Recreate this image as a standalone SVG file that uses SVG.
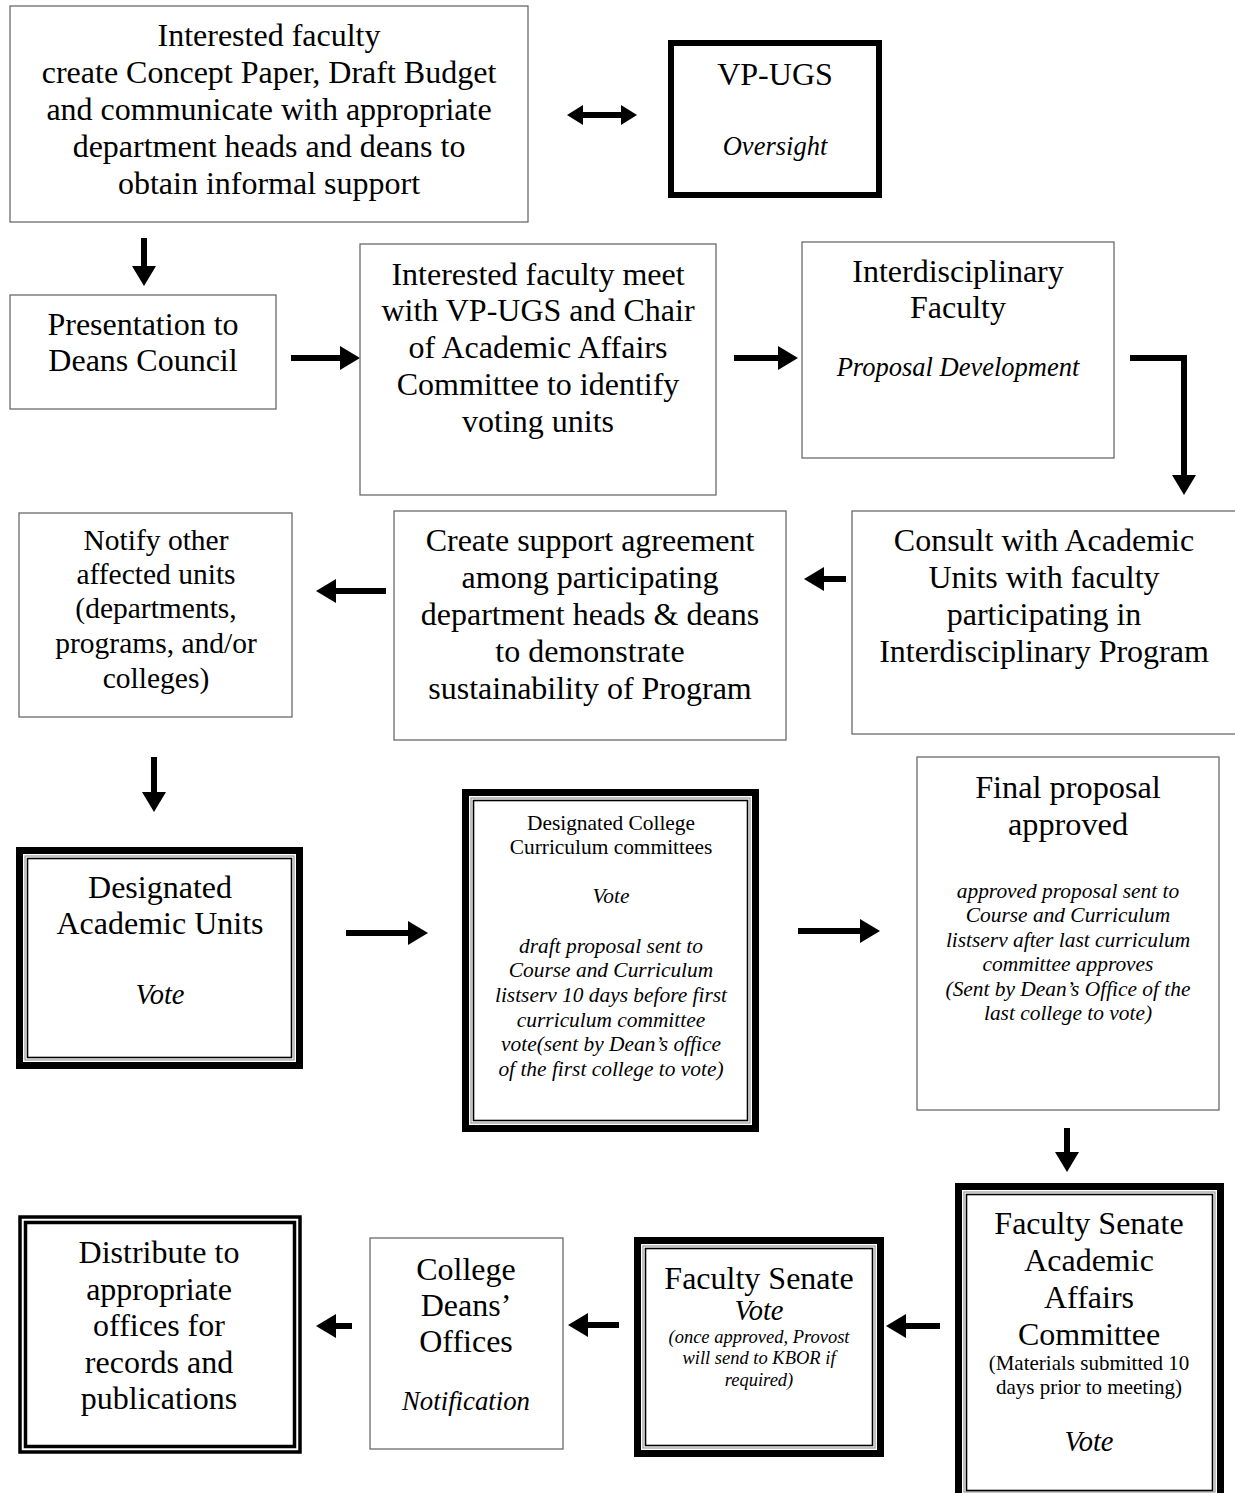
<svg xmlns="http://www.w3.org/2000/svg" width="1235" height="1493" viewBox="0 0 1235 1493">
<style>
text{font-family:"Liberation Serif","Times New Roman",serif;fill:#000;text-anchor:middle}
.t29{font-size:32px}
.t26{font-size:29.5px}
.t19{font-size:21.4px}
.i{font-style:italic}
.thin{fill:#fff;stroke:#6a6a6a;stroke-width:1.3}
.thick{fill:#fff;stroke:#000;stroke-width:6}
.outer{fill:#fff;stroke:#000;stroke-width:7}
.gray{fill:none;stroke:#999;stroke-width:1.2}
.inner{fill:none;stroke:#000;stroke-width:1.6}
.dbl{fill:#fff;stroke:#000;stroke-width:3.5}
.conn{stroke:#000;stroke-width:6;fill:none}
</style>
<defs>
<marker id="ah" markerUnits="userSpaceOnUse" markerWidth="20" markerHeight="24" refX="6" refY="12" orient="auto" overflow="visible">
<path d="M0,0 L20,12 L0,24 Z" fill="#000"/>
</marker>
<marker id="ahs" markerUnits="userSpaceOnUse" markerWidth="16" markerHeight="20" refX="5" refY="10" orient="auto-start-reverse" overflow="visible">
<path d="M0,0 L16,10 L0,20 Z" fill="#000"/>
</marker>
</defs>
<rect width="1235" height="1493" fill="#fff"/>

<g id="connectors">
<line class="conn" x1="578" y1="115" x2="626" y2="115" marker-start="url(#ahs)" marker-end="url(#ahs)"/>
<line class="conn" x1="144" y1="238" x2="144" y2="272" marker-end="url(#ah)"/>
<line class="conn" x1="291" y1="358" x2="346" y2="358" marker-end="url(#ah)"/>
<line class="conn" x1="734" y1="358" x2="784" y2="358" marker-end="url(#ah)"/>
<path class="conn" d="M1130,358 H1184 V481" marker-end="url(#ah)"/>
<line class="conn" x1="846" y1="579" x2="818" y2="579" marker-end="url(#ah)"/>
<line class="conn" x1="386" y1="591" x2="330" y2="591" marker-end="url(#ah)"/>
<line class="conn" x1="154" y1="757" x2="154" y2="798" marker-end="url(#ah)"/>
<line class="conn" x1="346" y1="933" x2="414" y2="933" marker-end="url(#ah)"/>
<line class="conn" x1="798" y1="931" x2="866" y2="931" marker-end="url(#ah)"/>
<line class="conn" x1="1067" y1="1128" x2="1067" y2="1158" marker-end="url(#ah)"/>
<line class="conn" x1="940" y1="1326" x2="900" y2="1326" marker-end="url(#ah)"/>
<line class="conn" x1="619" y1="1325" x2="582" y2="1325" marker-end="url(#ah)"/>
<line class="conn" x1="352" y1="1326" x2="330" y2="1326" marker-end="url(#ah)"/>
</g>

<g id="n1">
<rect class="thin" x="10" y="6" width="518" height="216"/>
<text class="t29" x="269" y="46">Interested faculty</text>
<text class="t29" x="269" y="83">create Concept Paper, Draft Budget</text>
<text class="t29" x="269" y="120">and communicate with appropriate</text>
<text class="t29" x="269" y="157">department heads and deans to</text>
<text class="t29" x="269" y="194">obtain informal support</text>
</g>

<g id="n2">
<rect class="thick" x="671" y="43" width="208" height="152"/>
<text class="t29" x="775" y="85">VP-UGS</text>
<text class="i" x="775" y="155" font-size="26.5">Oversight</text>
</g>

<g id="n3">
<rect class="thin" x="10" y="295" width="266" height="114"/>
<text class="t29" x="143" y="335">Presentation to</text>
<text class="t29" x="143" y="371">Deans Council</text>
</g>

<g id="n4">
<rect class="thin" x="360" y="244" width="356" height="251"/>
<text class="t29" x="538" y="285">Interested faculty meet</text>
<text class="t29" x="538" y="321">with VP-UGS and Chair</text>
<text class="t29" x="538" y="358">of Academic Affairs</text>
<text class="t29" x="538" y="395">Committee to identify</text>
<text class="t29" x="538" y="432">voting units</text>
</g>

<g id="n5">
<rect class="thin" x="802" y="242" width="312" height="216"/>
<text class="t29" x="958" y="282">Interdisciplinary</text>
<text class="t29" x="958" y="318">Faculty</text>
<text class="i" x="958" y="376" font-size="26.5">Proposal Development</text>
</g>

<g id="n6">
<rect class="thin" x="852" y="511" width="390" height="223"/>
<text class="t29" x="1044" y="551">Consult with Academic</text>
<text class="t29" x="1044" y="588">Units with faculty</text>
<text class="t29" x="1044" y="625">participating in</text>
<text class="t29" x="1044" y="662">Interdisciplinary Program</text>
</g>

<g id="n7">
<rect class="thin" x="394" y="511" width="392" height="229"/>
<text class="t29" x="590" y="551">Create support agreement</text>
<text class="t29" x="590" y="588">among participating</text>
<text class="t29" x="590" y="625">department heads &amp; deans</text>
<text class="t29" x="590" y="662">to demonstrate</text>
<text class="t29" x="590" y="699">sustainability of Program</text>
</g>

<g id="n8">
<rect class="thin" x="19" y="513" width="273" height="204"/>
<text class="t26" x="156" y="550">Notify other</text>
<text class="t26" x="156" y="584">affected units</text>
<text class="t26" x="156" y="618">(departments,</text>
<text class="t26" x="156" y="653">programs, and/or</text>
<text class="t26" x="156" y="688">colleges)</text>
</g>

<g id="n9">
<rect class="outer" x="19.5" y="850.5" width="280" height="215"/>
<rect class="gray" x="25" y="856" width="269" height="204"/>
<rect class="inner" x="27.5" y="858.5" width="264" height="199"/>
<text class="t29" x="160" y="898">Designated</text>
<text class="t29" x="160" y="934">Academic Units</text>
<text class="i" x="160" y="1004" font-size="28.5">Vote</text>
</g>

<g id="n10">
<rect class="outer" x="465.5" y="792.5" width="290" height="336"/>
<rect class="gray" x="471" y="798" width="279" height="325"/>
<rect class="inner" x="473.5" y="800.5" width="274" height="320"/>
<text class="t19" x="611" y="830">Designated College</text>
<text class="t19" x="611" y="854">Curriculum committees</text>
<text class="t19 i" x="611" y="903">Vote</text>
<text class="t19 i" x="611" y="953">draft proposal sent to</text>
<text class="t19 i" x="611" y="977">Course and Curriculum</text>
<text class="t19 i" x="611" y="1002">listserv 10 days before first</text>
<text class="t19 i" x="611" y="1027">curriculum committee</text>
<text class="t19 i" x="611" y="1051">vote(sent by Dean’s office</text>
<text class="t19 i" x="611" y="1076">of the first college to vote)</text>
</g>

<g id="n11">
<rect class="thin" x="917" y="757" width="302" height="353"/>
<text x="1068" y="798" font-size="32.3">Final proposal</text>
<text x="1068" y="835" font-size="32.3">approved</text>
<text class="t19 i" x="1068" y="898">approved proposal sent to</text>
<text class="t19 i" x="1068" y="922">Course and Curriculum</text>
<text class="t19 i" x="1068" y="947">listserv after last curriculum</text>
<text class="t19 i" x="1068" y="971">committee approves</text>
<text class="t19 i" x="1068" y="996">(Sent by Dean’s Office of the</text>
<text class="t19 i" x="1068" y="1020">last college to vote)</text>
</g>

<g id="n12">
<rect class="outer" x="958.5" y="1186.5" width="262" height="310"/>
<rect class="gray" x="964" y="1192" width="251" height="300"/>
<rect class="inner" x="966.5" y="1194.5" width="246" height="296"/>
<text class="t29" x="1089" y="1234">Faculty Senate</text>
<text class="t29" x="1089" y="1271">Academic</text>
<text class="t29" x="1089" y="1308">Affairs</text>
<text class="t29" x="1089" y="1345">Committee</text>
<text x="1089" y="1370" font-size="21">(Materials submitted 10</text>
<text x="1089" y="1394" font-size="21">days prior to meeting)</text>
<text class="i" x="1089" y="1451" font-size="28.5">Vote</text>
</g>

<g id="n13">
<rect class="outer" x="637.5" y="1240.5" width="243" height="213"/>
<rect class="gray" x="643" y="1246" width="232" height="202"/>
<rect class="inner" x="645.5" y="1248.5" width="227" height="197"/>
<text class="t29" x="759" y="1289">Faculty Senate</text>
<text class="i" x="759" y="1320" font-size="28.5">Vote</text>
<text class="i" x="759" y="1343" font-size="18.5">(once approved, Provost</text>
<text class="i" x="759" y="1364" font-size="18.5">will send to KBOR if</text>
<text class="i" x="759" y="1386" font-size="18.5">required)</text>
</g>

<g id="n14">
<rect class="thin" x="370" y="1238" width="193" height="211"/>
<text class="t29" x="466" y="1280">College</text>
<text class="t29" x="466" y="1316">Deans’</text>
<text class="t29" x="466" y="1352">Offices</text>
<text class="i" x="466" y="1410" font-size="26.8">Notification</text>
</g>

<g id="n15">
<rect class="dbl" x="20" y="1217" width="280" height="235"/>
<rect class="dbl" x="25.5" y="1222.5" width="269" height="224"/>
<text class="t29" x="159" y="1263">Distribute to</text>
<text class="t29" x="159" y="1300">appropriate</text>
<text class="t29" x="159" y="1336">offices for</text>
<text class="t29" x="159" y="1373">records and</text>
<text class="t29" x="159" y="1409">publications</text>
</g>
</svg>
